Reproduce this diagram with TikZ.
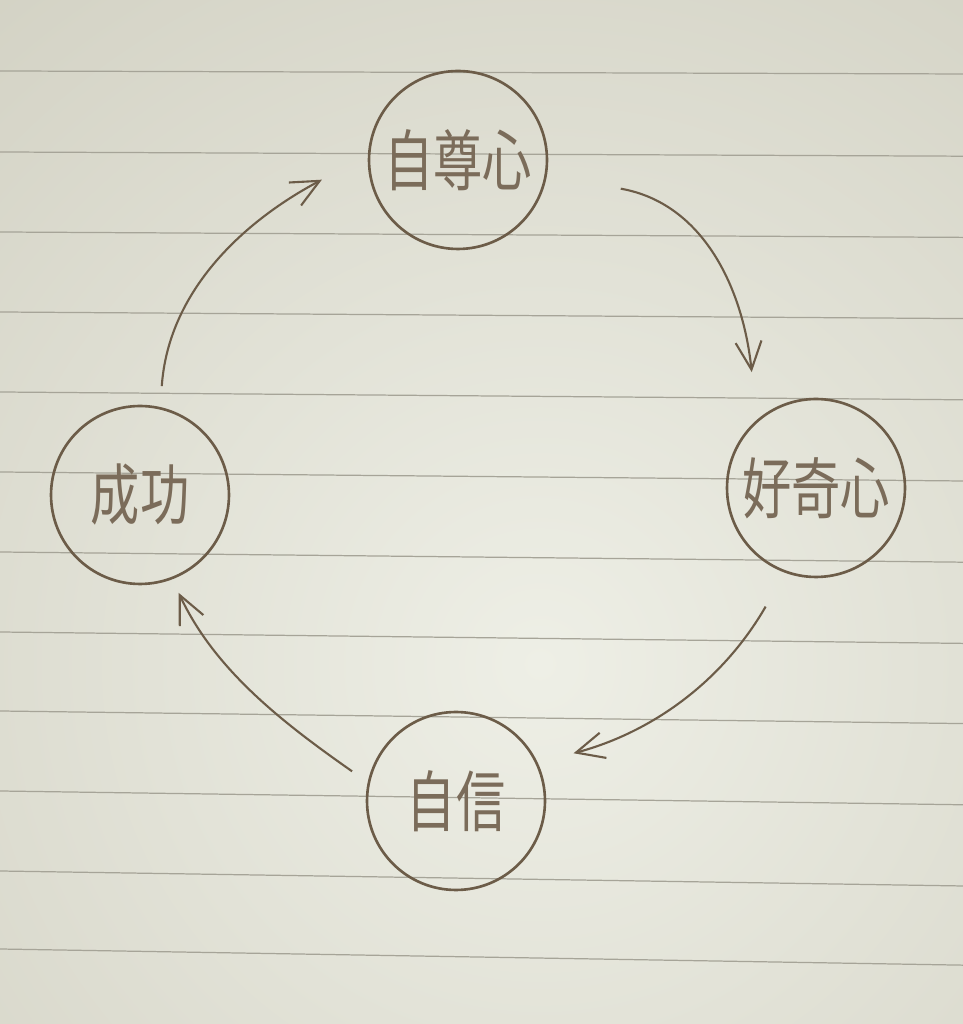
\documentclass[tikz,border=0pt]{standalone}
\usepackage{fontspec}
\newfontfamily\cjk{Noto Sans CJK JP}
\usetikzlibrary{arrows.meta}
\definecolor{paperdark}{RGB}{198,196,180}
\definecolor{paperlight}{RGB}{238,239,230}
\definecolor{ruled}{RGB}{166,164,152}
\definecolor{pencil}{RGB}{108,92,72}
\newcommand{\tallchars}[1]{\scalebox{1}[1.35]{#1}}

\begin{document}
\begin{tikzpicture}[x=0.02cm, y=0.02cm,
  word/.style={draw=pencil, circle, line width=1.5pt, minimum size=3.56cm, inner sep=0pt, text=pencil!90, font=\cjk\fontsize{28}{28}\selectfont},
  flow/.style={draw=pencil, line width=1.2pt, -{Straight Barb[length=0.56cm, width=0.52cm]}}]
\useasboundingbox (0,0) rectangle (963,1024);
\begin{scope}
\clip (0,0) rectangle (963,1024);
\fill[paperdark] (0,0) rectangle (963,1024);
\shade[inner color=paperlight, outer color=paperdark] (540,360) circle (1300);
\end{scope}
\foreach \ly in {71,152,232,312,392,472,552,632,711,791,871,949}
  \path[draw=ruled, line width=0.7pt] (0,1024-\ly) -- (963,{1024-\ly-3-0.015*(\ly-72)});

\node[word] (pride) at (458,864) {\tallchars{自尊心}};
\node[word] (curiosity) at (816,536) {\tallchars{好奇心}};
\node[word] (confidence) at (456,223) {\tallchars{自信}};
\node[word] (success) at (140,529) {\tallchars{成功}};

\path[flow, shorten <=1.5cm, shorten >=0.96cm] (pride.-10) to[out=-10, in=96, out distance=3.18cm, in distance=2.64cm] (curiosity.131);
\path[flow, shorten <=0.78cm, shorten >=0.74cm] (curiosity.250) to[out=-120, in=15, out distance=2.46cm, in distance=2.42cm] (confidence.25);
\path[flow, shorten <=0.38cm, shorten >=0.3cm] (confidence.168) to[out=145, in=-65, out distance=2.08cm, in distance=2.0cm] (success.-69);
\path[flow, shorten <=0.42cm, shorten >=1.04cm] (success.77) to[out=86, in=208, out distance=2.28cm, in distance=2.9cm] (pride.177);
\end{tikzpicture}
\end{document}
